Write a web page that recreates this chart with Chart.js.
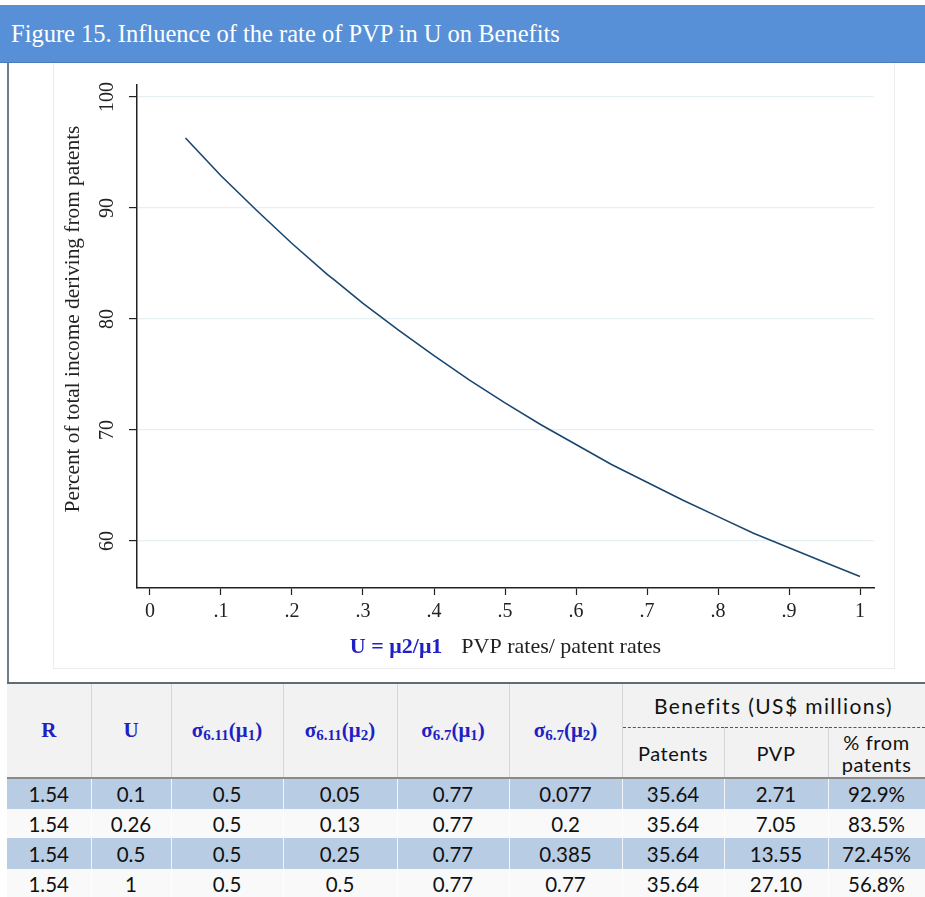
<!DOCTYPE html>
<html>
<head>
<meta charset="utf-8">
<script src="https://cdn.jsdelivr.net/npm/chart.js@4.4.1/dist/chart.umd.min.js"></script>
<style>
  html, body { margin: 0; padding: 0; background: #fff; }
  body { width: 925px; height: 897px; position: relative; overflow: hidden; font-family: "Liberation Serif", serif; }
  #titleBar { position: absolute; left: 0; top: 5px; width: 925px; height: 57px; background: #5790d6; border-bottom: 1px solid #4a7cbd; }
  #titleBar span { position: absolute; left: 11px; top: 0; line-height: 57px; color: #fff; font-size: 24.5px; white-space: nowrap; }
  #leftRule { position: absolute; left: 7px; top: 63px; width: 2px; height: 834px; background: #6f7d8a; }
  #panel { position: absolute; left: 53px; top: 63px; width: 840px; height: 605px; border: 1px solid #ececec; border-top: none; }
  #chartBox { position: absolute; left: 53px; top: 63px; width: 841px; height: 606px; }
  #tbl { position: absolute; left: 7px; top: 682px; border-collapse: collapse; table-layout: fixed; width: 918px; border-top: 2px solid #5f6b75; }
  #tbl th { background: #f2f2f2; border-right: 1px solid #d6d6d6; padding: 0; font-weight: normal; vertical-align: middle; }
  #tbl th.sym { font-family: "Liberation Serif", serif; font-weight: bold; color: #1f1fc4; font-size: 21px; }
  #tbl th.sym sub { font-size: 15px; vertical-align: -3px; line-height: 0; }
  #tbl th.ben { font-family: Lato, sans-serif; font-size: 20px; color: #111; line-height: 22px; letter-spacing: 0.6px; }
  #tbl th.top { border-bottom: 1px dashed #555; height: 43px; font-size: 21px; letter-spacing: 1.4px; }
  #tbl tr.hd2 th { height: 49px; }
  #tbl thead tr.hd2 th, #tbl th.span2 { border-bottom: 2px solid #8a8a8a; }
  #tbl td { padding: 0; text-align: center; font-family: Lato, sans-serif; font-size: 20.5px; color: #111; border-right: 1px solid rgba(255,255,255,0.8); }
  #tbl tr.blue td { background: #b8cce4; }
  #tbl tr.plain td { background: #f9f9f9; }
</style>
</head>
<body>
<div id="titleBar"><span>Figure 15. Influence of the rate of PVP in U on Benefits</span></div>
<div id="leftRule"></div>
<div id="panel"></div>
<div id="chartBox"><canvas id="pvpChart"></canvas></div>
<table id="tbl">
  <colgroup>
    <col style="width:84px"><col style="width:80px"><col style="width:112px"><col style="width:114px">
    <col style="width:112px"><col style="width:113px"><col style="width:102px"><col style="width:104px"><col style="width:97px">
  </colgroup>
  <thead>
    <tr>
      <th class="sym span2" rowspan="2">R</th>
      <th class="sym span2" rowspan="2">U</th>
      <th class="sym span2" rowspan="2">σ<sub>6.11</sub>(μ<sub>1</sub>)</th>
      <th class="sym span2" rowspan="2">σ<sub>6.11</sub>(μ<sub>2</sub>)</th>
      <th class="sym span2" rowspan="2">σ<sub>6.7</sub>(μ<sub>1</sub>)</th>
      <th class="sym span2" rowspan="2">σ<sub>6.7</sub>(μ<sub>2</sub>)</th>
      <th class="ben top" colspan="3">Benefits (US$ millions)</th>
    </tr>
    <tr class="hd2">
      <th class="ben">Patents</th>
      <th class="ben">PVP</th>
      <th class="ben">% from<br>patents</th>
    </tr>
  </thead>
  <tbody id="tblBody"></tbody>
</table>
<script>
// curve: share of total income from patents (%)
const uRates = [0.05, 0.1, 0.15, 0.2, 0.25, 0.26, 0.3, 0.35, 0.4, 0.45, 0.5,
                0.55, 0.6, 0.65, 0.7, 0.75, 0.8, 0.85, 0.9, 0.95, 1.0];
const pctFromPatents = [96.3, 92.9, 89.8, 86.8, 84.0, 83.5, 81.4, 79.0, 76.7, 74.5, 72.45,
                        70.5, 68.7, 66.9, 65.3, 63.7, 62.2, 60.7, 59.4, 58.1, 56.8];

const xTickVals = [0, 0.1, 0.2, 0.3, 0.4, 0.5, 0.6, 0.7, 0.8, 0.9, 1];
const xTickLabels = ['0', '.1', '.2', '.3', '.4', '.5', '.6', '.7', '.8', '.9', '1'];
const yTickVals = [60, 70, 80, 90, 100];
const yTickLabels = ['60', '70', '80', '90', '100'];

const yTitle = 'Percent of total income deriving from patents';
const xTitleBlue = 'U = μ2/μ1';
const xTitleBlack = 'PVP rates/ patent rates';

// table under the figure
const colR = ['1.54', '1.54', '1.54', '1.54'];
const colU = ['0.1', '0.26', '0.5', '1'];
const colS611mu1 = ['0.5', '0.5', '0.5', '0.5'];
const colS611mu2 = ['0.05', '0.13', '0.25', '0.5'];
const colS67mu1 = ['0.77', '0.77', '0.77', '0.77'];
const colS67mu2 = ['0.077', '0.2', '0.385', '0.77'];
const colPatents = ['35.64', '35.64', '35.64', '35.64'];
const colPVP = ['2.71', '7.05', '13.55', '27.10'];
const colPct = ['92.9%', '83.5%', '72.45%', '56.8%'];
const rowHeights = [31, 29, 31, 30];

const tbody = document.getElementById('tblBody');
colR.forEach(function(r, i){
    const tr = document.createElement('tr');
    tr.className = (i % 2 === 0) ? 'blue' : 'plain';
    tr.style.height = rowHeights[i] + 'px';
    [r, colU[i], colS611mu1[i], colS611mu2[i], colS67mu1[i], colS67mu2[i], colPatents[i], colPVP[i], colPct[i]]
        .forEach(function(v){
            const td = document.createElement('td');
            td.textContent = v;
            tr.appendChild(td);
        });
    tbody.appendChild(tr);
});

const serif = '"Liberation Serif", "Times New Roman", serif';
const axisColor = '#222';

const axisTitles = {
    id: 'axisTitles',
    afterDraw(chart) {
        const ctx = chart.ctx;
        const a = chart.chartArea;
        ctx.save();
        ctx.fillStyle = axisColor;
        ctx.font = '21.3px ' + serif;
        ctx.textAlign = 'center';
        ctx.textBaseline = 'middle';
        ctx.translate(a.left - 64, a.top + 234);
        ctx.rotate(-Math.PI / 2);
        ctx.fillText(yTitle, 0, 0);
        ctx.restore();

        ctx.save();
        ctx.textBaseline = 'alphabetic';
        ctx.textAlign = 'left';
        ctx.font = 'bold 22px ' + serif;
        const wBlue = ctx.measureText(xTitleBlue).width;
        ctx.font = '22px ' + serif;
        const wBlack = ctx.measureText(xTitleBlack).width;
        const gap = 19;
        let x0 = (a.left + a.right) / 2 - (wBlue + gap + wBlack) / 2;
        const yb = a.bottom + 65;
        ctx.font = 'bold 22px ' + serif;
        ctx.fillStyle = '#1f1fc4';
        ctx.fillText(xTitleBlue, x0, yb);
        ctx.font = '22px ' + serif;
        ctx.fillStyle = axisColor;
        ctx.fillText(xTitleBlack, x0 + wBlue + gap, yb);
        ctx.restore();
    }
};

const ctx = document.getElementById('pvpChart').getContext('2d');
const pvpChart = new Chart(ctx, {
    type: 'line',
    data: {
        datasets: [{
            data: uRates.map(function(u, i){ return { x: u, y: pctFromPatents[i] }; }),
            borderColor: '#1a476f',
            borderWidth: 1.6,
            pointRadius: 0,
            tension: 0,
            fill: false
        }]
    },
    options: {
        responsive: true,
        maintainAspectRatio: false,
        animation: false,
        layout: { padding: { top: 22, right: 20, left: 0, bottom: 0 } },
        plugins: {
            legend: { display: false },
            tooltip: { enabled: false }
        },
        scales: {
            x: {
                type: 'linear',
                min: -0.0183,
                max: 1.0197,
                afterBuildTicks: function(scale){ scale.ticks = xTickVals.map(function(v){ return { value: v }; }); },
                afterFit: function(scale){ scale.height = 81; },
                border: { display: true, color: axisColor, width: 1.5 },
                grid: { drawOnChartArea: false, drawTicks: true, tickLength: 7, tickColor: axisColor, tickWidth: 1.2 },
                ticks: {
                    padding: 5,
                    maxRotation: 0,
                    autoSkip: false,
                    color: axisColor,
                    font: { family: serif, size: 20 },
                    callback: function(v){ return xTickLabels[xTickVals.indexOf(v)]; }
                }
            },
            y: {
                type: 'linear',
                min: 55.77,
                max: 101.08,
                afterBuildTicks: function(scale){ scale.ticks = yTickVals.map(function(v){ return { value: v }; }); },
                afterFit: function(scale){ scale.width = 84; },
                border: { display: true, color: axisColor, width: 1.5 },
                grid: { color: '#e6eff1', lineWidth: 1.2, drawTicks: true, tickLength: 8, tickColor: axisColor, tickWidth: 1.2 },
                ticks: {
                    padding: 6,
                    minRotation: 90,
                    maxRotation: 90,
                    crossAlign: 'center',
                    autoSkip: false,
                    color: axisColor,
                    font: { family: serif, size: 20 },
                    callback: function(v){ return yTickLabels[yTickVals.indexOf(v)]; }
                }
            }
        }
    },
    plugins: [axisTitles]
});
</script>
</body>
</html>
